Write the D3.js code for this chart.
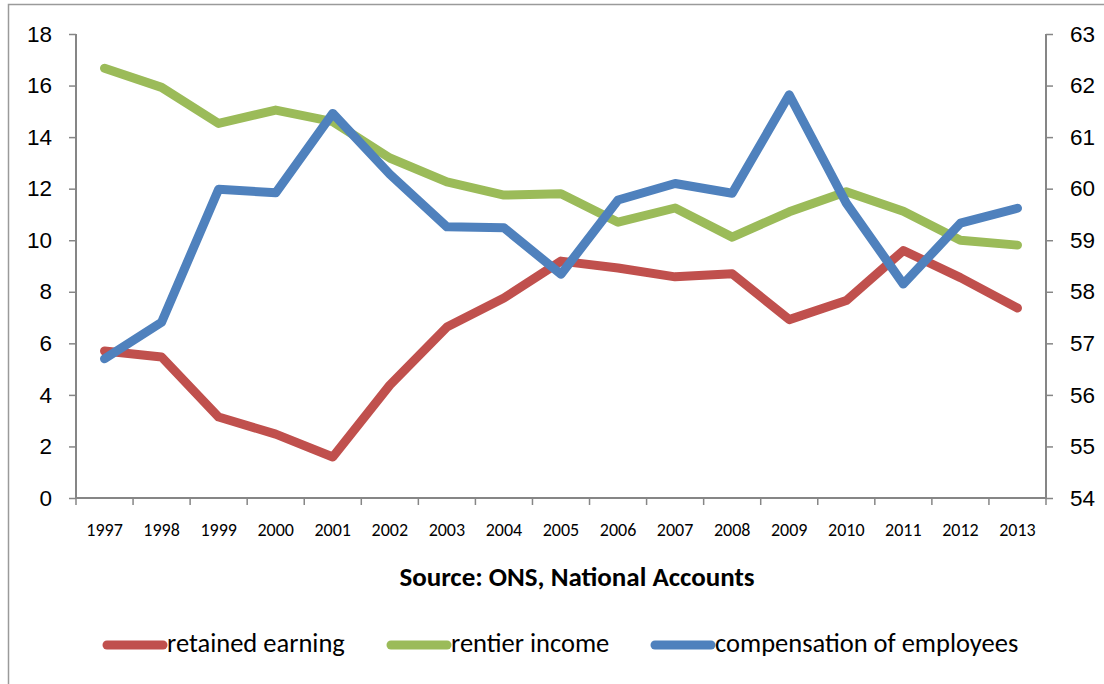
<!DOCTYPE html>
<html>
<head>
<meta charset="utf-8">
<script src="https://cdn.jsdelivr.net/npm/d3@7"></script>
<style>
  html, body { margin: 0; padding: 0; background: #fff; }
  svg { display: block; font-family: Carlito, Lato, "Open Sans", sans-serif; }
</style>
</head>
<body>
<svg id="chart" width="1104" height="684"></svg>
<script>
// Shares of income, UK, 1997–2013
const years = ["1997","1998","1999","2000","2001","2002","2003","2004","2005","2006","2007","2008","2009","2010","2011","2012","2013"];
const retainedEarning = [5.7, 5.47, 3.14, 2.48, 1.59, 4.38, 6.63, 7.76, 9.19, 8.92, 8.58, 8.7, 6.92, 7.66, 9.6, 8.55, 7.37];
const rentierIncome   = [16.67, 15.93, 14.53, 15.05, 14.6, 13.19, 12.26, 11.75, 11.8, 10.7, 11.25, 10.12, 11.1, 11.88, 11.12, 10.0, 9.81];
const compensation    = [56.7, 57.41, 59.99, 59.92, 61.46, 60.28, 59.26, 59.24, 58.34, 59.78, 60.1, 59.91, 61.82, 59.72, 58.15, 59.33, 59.62];
const leftTicks  = [0, 2, 4, 6, 8, 10, 12, 14, 16, 18];
const rightTicks = [54, 55, 56, 57, 58, 59, 60, 61, 62, 63];
const seriesNames = ["retained earning", "rentier income", "compensation of employees"];
const seriesColors = ["#C0504D", "#9BBB59", "#4F81BD"];
const sourceNote = "Source: ONS, National Accounts";

const svg = d3.select("#chart");
const axisColor = "#868686";

// outer chart frame
svg.append("rect")
  .attr("x", 8.5).attr("y", 4.5)
  .attr("width", 1200).attr("height", 1200)
  .attr("fill", "none").attr("stroke", "#9a9a9a").attr("stroke-width", 1.5);

const plot = { left: 76, right: 1046, top: 34, bottom: 498 };

const x = d3.scaleBand().domain(years).range([plot.left, plot.right]);
const yL = d3.scaleLinear().domain([0, 18]).range([plot.bottom, plot.top]);
const yR = d3.scaleLinear().domain([54, 63]).range([plot.bottom, plot.top]);

// left and right value axes
const gL = svg.append("g").attr("transform", `translate(${plot.left},0)`)
  .call(d3.axisLeft(yL).tickValues(leftTicks).tickSize(7).tickPadding(17).tickFormat(d3.format("d")));
const gR = svg.append("g").attr("transform", `translate(${plot.right},0)`)
  .call(d3.axisRight(yR).tickValues(rightTicks).tickSize(7).tickPadding(17).tickFormat(d3.format("d")));
[gL, gR].forEach(g => {
  g.select(".domain").attr("stroke", axisColor).attr("stroke-width", 2)
    .attr("d", `M0,${plot.top}V${plot.bottom}`);
  g.selectAll(".tick line").attr("stroke", axisColor).attr("stroke-width", 1.5);
  g.selectAll(".tick text").attr("fill", "#000").style("font-size", "22.5px");
});

// category axis with ticks between categories
const gX = svg.append("g").attr("transform", `translate(0,${plot.bottom})`);
gX.append("line")
  .attr("x1", plot.left).attr("x2", plot.right)
  .attr("stroke", axisColor).attr("stroke-width", 2);
const boundaries = years.map(d => x(d)).concat([x(years[years.length - 1]) + x.bandwidth()]);
gX.selectAll("line.tk").data(boundaries).join("line")
  .attr("class", "tk")
  .attr("x1", d => d).attr("x2", d => d)
  .attr("y1", 0).attr("y2", 7)
  .attr("stroke", axisColor).attr("stroke-width", 1.5);
gX.selectAll("text").data(years).join("text")
  .attr("x", d => x(d) + x.bandwidth() / 2)
  .attr("y", 38)
  .attr("text-anchor", "middle")
  .style("font-size", "18px")
  .attr("fill", "#000")
  .text(d => d);

// series lines
const cx = d => x(d) + x.bandwidth() / 2;
const data = [
  { vals: retainedEarning, scale: yL },
  { vals: rentierIncome, scale: yL },
  { vals: compensation, scale: yR }
];
data.forEach((s, i) => {
  const line = d3.line().x((d, j) => cx(years[j])).y(d => s.scale(d));
  svg.append("path")
    .datum(s.vals)
    .attr("d", line)
    .attr("fill", "none")
    .attr("stroke", seriesColors[i])
    .attr("stroke-width", 9)
    .attr("stroke-linejoin", "round")
    .attr("stroke-linecap", "round");
});

// source note
svg.append("text")
  .attr("x", 577).attr("y", 586)
  .attr("text-anchor", "middle")
  .style("font-size", "27px").style("font-weight", "bold")
  .attr("fill", "#000")
  .text(sourceNote);

// legend
const legendX = [107, 391, 655];
const lg = svg.append("g");
seriesNames.forEach((name, i) => {
  lg.append("line")
    .attr("x1", legendX[i]).attr("x2", legendX[i] + 56)
    .attr("y1", 645).attr("y2", 645)
    .attr("stroke", seriesColors[i]).attr("stroke-width", 9)
    .attr("stroke-linecap", "round");
  lg.append("text")
    .attr("x", legendX[i] + 60).attr("y", 652)
    .style("font-size", "26.5px")
    .attr("fill", "#000")
    .text(name);
});
</script>
</body>
</html>
